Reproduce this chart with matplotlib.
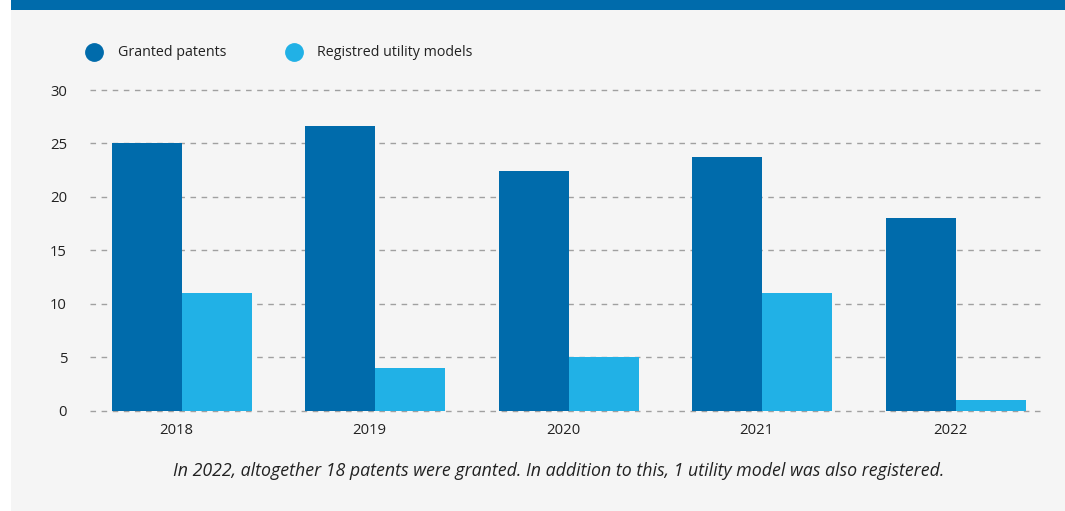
import matplotlib
matplotlib.use("Agg")
import matplotlib.pyplot as plt
from matplotlib.patches import Rectangle
import numpy as np

years = ["2018", "2019", "2020", "2021", "2022"]
granted_patents = [25, 26.6, 22.4, 23.7, 18]
utility_models = [11, 4, 5, 11, 1]
series_labels = ["Granted patents", "Registred utility models"]
y_ticks = [0, 5, 10, 15, 20, 25, 30]
caption = "In 2022, altogether 18 patents were granted. In addition to this, 1 utility model was also registered."

DARK = "#006BAB"
LIGHT = "#21B1E6"
BG = "#F5F5F5"
TXT = "#222222"

plt.rcParams['font.family'] = ['Open Sans', 'DejaVu Sans']

W, H = 1065, 511
fig = plt.figure(figsize=(W / 100, H / 100), dpi=100)
fig.patch.set_facecolor("white")

# background panel and top bar
fig.add_artist(Rectangle((11 / W, 0), 1 - 11 / W, (H - 10) / H, transform=fig.transFigure,
                         facecolor=BG, edgecolor="none", zorder=0))
fig.add_artist(Rectangle((11 / W, (H - 10) / H), 1 - 11 / W, 10 / H, transform=fig.transFigure,
                         facecolor=DARK, edgecolor="none", zorder=0))

ax_left, ax_right = 90, 1043
y0_px, y30_px = 410.7, 90
ax = fig.add_axes([ax_left / W, (H - y0_px) / H, (ax_right - ax_left) / W, (y0_px - y30_px) / H])
ax.set_facecolor("none")

x = np.arange(len(years))
bw = 0.362
ax.bar(x - bw / 2, granted_patents, width=bw, color=DARK, zorder=3)
ax.bar(x + bw / 2, utility_models, width=bw, color=LIGHT, zorder=3)

ax.set_xlim(-0.475, 4.45)
ax.set_ylim(0, 30)
ax.set_yticks(y_ticks)
ax.set_yticklabels([str(t) for t in y_ticks], fontsize=10.7, color=TXT)
for t in y_ticks:
    ax.axhline(t, color="#a0a0a0", linewidth=1, linestyle=(0, (4, 4)), zorder=1, clip_on=False)
ax.set_xticks(x - 0.03)
ax.set_xticklabels(years, fontsize=10.7, color=TXT)
ax.tick_params(axis="y", length=0, pad=16.5)
ax.tick_params(axis="x", length=0, pad=9)
for s in ax.spines.values():
    s.set_visible(False)

# legend
leg = [(94, DARK, series_labels[0], 118), (294, LIGHT, series_labels[1], 317)]
for cx, col, lab, tx in leg:
    fig.add_artist(plt.Line2D([cx / W], [(H - 52) / H], marker="o", markersize=12.5,
                              color=col, linestyle="none", transform=fig.transFigure))
    fig.text(tx / W, (H - 52) / H, lab, fontsize=10.3, color=TXT, va="center", ha="left")

fig.text(559 / W, (H - 471) / H, caption, fontsize=12.8, style="italic", color=TXT,
         ha="center", va="center")

fig.savefig("out.png", dpi=100, facecolor="white")
